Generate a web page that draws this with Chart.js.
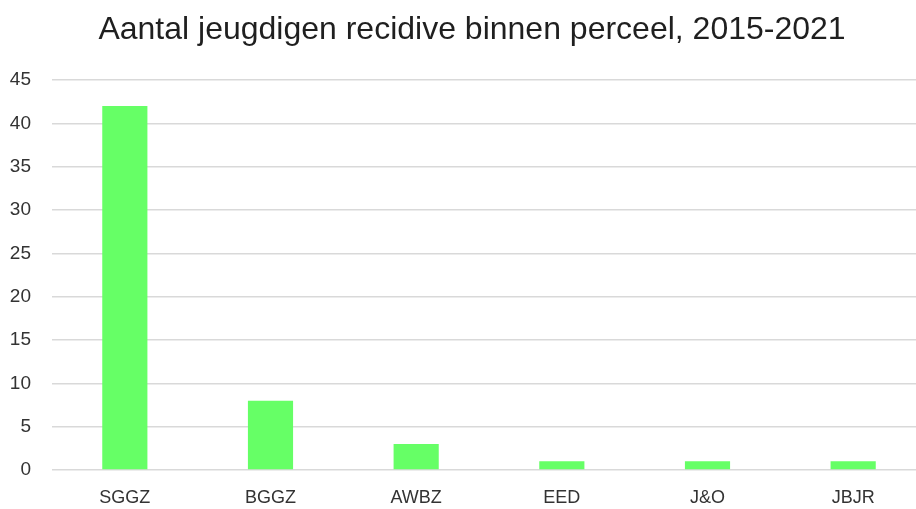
<!DOCTYPE html>
<html>
<head>
<meta charset="utf-8">
<script src="https://cdn.jsdelivr.net/npm/chart.js@4/dist/chart.umd.min.js"></script>
<style>
  html, body { margin: 0; padding: 0; background: #ffffff; overflow: hidden; }
  #wrap { width: 916px; height: 509px; overflow: hidden; position: relative; }
  #box { width: 926px; height: 509px; position: absolute; left: 0; top: 0; }
</style>
</head>
<body>
<div id="wrap"><div id="box"><canvas id="chart"></canvas></div></div>
<script>
// Categories and counts per perceel
const categories = ['SGGZ', 'BGGZ', 'AWBZ', 'EED', 'J&O', 'JBJR'];
const recidiveCounts = [42, 8, 3, 1, 1, 1];
const yTicks = [0, 5, 10, 15, 20, 25, 30, 35, 40, 45];
const chartTitle = 'Aantal jeugdigen recidive binnen perceel, 2015-2021';

const FONT = "'Liberation Sans', Arial, sans-serif";

// Title drawn at a fixed centre over the chart
const titlePlugin = {
  id: 'topTitle',
  afterDraw(chart) {
    const ctx = chart.ctx;
    ctx.save();
    ctx.font = '32px ' + FONT;
    ctx.fillStyle = '#1f1f1f';
    ctx.textAlign = 'center';
    ctx.textBaseline = 'alphabetic';
    ctx.fillText(chartTitle, 472, 39);
    ctx.restore();
  }
};

new Chart(document.getElementById('chart'), {
  type: 'bar',
  data: {
    labels: categories,
    datasets: [{
      data: recidiveCounts,
      backgroundColor: '#66ff66',
      borderWidth: 0,
      barPercentage: 0.31,
      categoryPercentage: 1.0
    }]
  },
  options: {
    responsive: true,
    maintainAspectRatio: false,
    animation: false,
    devicePixelRatio: 1,
    layout: { padding: { top: 80, right: 0, left: 0, bottom: 0 } },
    plugins: {
      legend: { display: false },
      title: { display: false },
      tooltip: { enabled: false }
    },
    scales: {
      x: {
        grid: { display: false, drawTicks: false },
        border: { display: false },
        ticks: {
          color: '#333333',
          font: { family: FONT, size: 18 },
          padding: 17,
          maxRotation: 0
        },
        afterFit(scale) { scale.height = 39; }
      },
      y: {
        min: 0,
        max: 45,
        afterBuildTicks(scale) { scale.ticks = yTicks.map(v => ({ value: v })); },
        grid: { color: '#d9d9d9', lineWidth: 1.5, drawTicks: false },
        border: { display: false },
        ticks: {
          color: '#333333',
          font: { family: FONT, size: 19 },
          padding: 21
        },
        afterFit(scale) { scale.width = 52; }
      }
    }
  },
  plugins: [titlePlugin]
});
</script>
</body>
</html>
